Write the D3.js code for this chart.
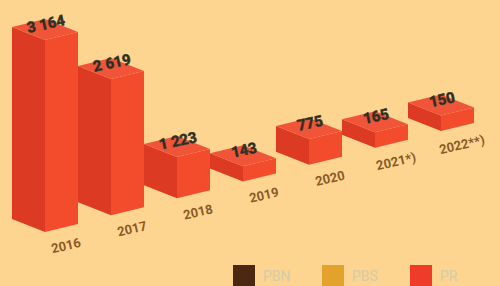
<!DOCTYPE html>
<html>
<head>
<meta charset="utf-8">
<script src="https://cdn.jsdelivr.net/npm/d3@7"></script>
<style>
  body { margin: 0; background: #fdd591; }
  svg { display: block; }
</style>
</head>
<body>
<svg class="chart" width="500" height="286"></svg>
<script>
var years = ["2016", "2017", "2018", "2019", "2020", "2021*)", "2022**)"];
var values = [3164, 2619, 1223, 143, 775, 165, 150];
var valueLabels = ["3 164", "2 619", "1 223", "143", "775", "165", "150"];
var legendNames = ["PBN", "PBS", "PR"];
var legendColors = ["#4a2812", "#e3a22c", "#ee3b2a"];

var svg = d3.select(".chart"),
    width = +svg.attr("width"),
    height = +svg.attr("height");

svg.append("rect").attr("width", width).attr("height", height).attr("fill", "#fdd591");

// categories run along a rising diagonal
var x = d3.scalePoint()
    .domain(years)
    .range([45, 441]);

var base = d3.scaleLinear()
    .domain([45, 441])
    .range([232, 131]);

// bar height (designer's scale is exaggerated at the top, small bars get a floor)
var h = d3.scalePow()
    .exponent(2)
    .domain([0, 3164])
    .range([15, 192]);

var w = 33, riseL = 13, riseR = 8;

var data = years.map(function(d, i) {
  return {year: d, value: values[i], label: valueLabels[i]};
});

var bars = svg.append("g").selectAll("g")
    .data(data)
  .enter().append("g");

function pts(p) { return p.map(function(q) { return q.join(","); }).join(" "); }

// left face
bars.append("polygon")
    .attr("fill", "#dc3a22")
    .attr("points", function(d) {
      var cx = x(d.year), by = base(cx), ty = by - h(d.value);
      return pts([[cx - w, by - riseL], [cx, by], [cx, ty], [cx - w, ty - riseL]]);
    });

// right face
bars.append("polygon")
    .attr("fill", "#f24c2c")
    .attr("points", function(d) {
      var cx = x(d.year), by = base(cx), ty = by - h(d.value);
      return pts([[cx, by], [cx + w, by - riseR], [cx + w, ty - riseR], [cx, ty]]);
    });

// top
bars.append("polygon")
    .attr("fill", "#f0553a")
    .attr("points", function(d) {
      var cx = x(d.year), by = base(cx), ty = by - h(d.value);
      return pts([[cx, ty], [cx - w, ty - riseL], [cx, ty - riseL - riseR], [cx + w, ty - riseR]]);
    });

// value labels
bars.append("text")
    .attr("transform", function(d) {
      var cx = x(d.year), by = base(cx), ty = by - h(d.value);
      return "translate(" + (cx + 2) + "," + (ty - 11) + ") rotate(-12)";
    })
    .attr("text-anchor", "middle")
    .attr("font-family", "Roboto, sans-serif")
    .attr("font-weight", "bold")
    .attr("font-size", 15)
    .attr("fill", "#2b2a22")
    .attr("stroke", "#3a3a2a")
    .attr("stroke-width", 0.6)
    .text(function(d) { return d.label; });

// year labels
bars.append("text")
    .attr("transform", function(d) {
      var cx = x(d.year), by = base(cx);
      return "translate(" + (cx + 22) + "," + (by + 18) + ") rotate(-13)";
    })
    .attr("text-anchor", "middle")
    .attr("font-family", "Roboto, sans-serif")
    .attr("font-weight", "bold")
    .attr("font-size", 13)
    .attr("fill", "#8a5a26")
    .text(function(d) { return d.year; });

// legend
var lx = d3.scaleOrdinal()
    .domain(legendNames)
    .range([233, 322, 410]);

var legend = svg.append("g").selectAll("g")
    .data(legendNames)
  .enter().append("g")
    .attr("transform", function(d) { return "translate(" + lx(d) + ",265)"; });

legend.append("rect")
    .attr("width", 22)
    .attr("height", 22)
    .attr("fill", function(d, i) { return legendColors[i]; });

legend.append("text")
    .attr("x", 30)
    .attr("y", 16)
    .attr("font-family", "Roboto, sans-serif")
    .attr("font-size", 14)
    .attr("fill", "#d6cba8")
    .text(function(d) { return d; });
</script>
</body>
</html>
